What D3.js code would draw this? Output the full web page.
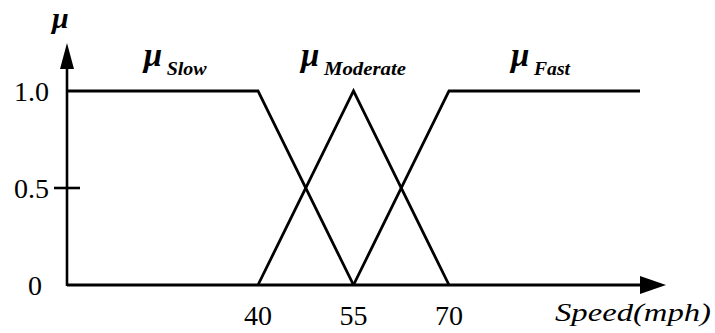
<!DOCTYPE html>
<html>
  <head>
    <title>Fuzzy speed sets</title>
    <script src="https://cdn.jsdelivr.net/npm/d3@7"></script>
    <style>
      body { margin: 0; background: white; }
      text { font-family: "Liberation Serif", "Times New Roman", serif; fill: black; }
    </style>
  </head>
  <body>
    <script>
      // membership functions (speed in mph -> mu)
      let slowX = [10, 40, 55], slowY = [1, 1, 0];
      let moderateX = [40, 55, 70], moderateY = [0, 1, 0];
      let fastX = [55, 70, 100], fastY = [0, 1, 1];

      let xTicks = [40, 55, 70];
      let yTicks = [0, 0.5, 1.0];
      let yTickLabels = ["0", "0.5", "1.0"];

      let setNames = ["Slow", "Moderate", "Fast"];
      let setLabelX = [22.2, 46.9, 79.9];   // speed where each label sits
      let subWidths = [40, 82, 36];

      let width = 715, height = 333;
      let svg = d3.select("body").append("svg")
                  .attr("width", width).attr("height", height);

      let x = d3.scaleLinear().domain([10, 100]).range([67, 640]);
      let y = d3.scaleLinear().domain([0, 1]).range([285, 91]);

      let line = d3.line().x(d => x(d[0])).y(d => y(d[1]));
      let series = [d3.zip(slowX, slowY), d3.zip(moderateX, moderateY), d3.zip(fastX, fastY)];

      svg.selectAll("path.mf").data(series).enter().append("path")
         .attr("class", "mf")
         .attr("d", line)
         .attr("fill", "none").attr("stroke", "black")
         .attr("stroke-width", 2.8).attr("stroke-linejoin", "miter");

      // axes with arrow heads
      let x0 = x(10), yBase = y(0);
      svg.append("line").attr("x1", x0).attr("y1", yBase).attr("x2", 645).attr("y2", yBase)
         .attr("stroke", "black").attr("stroke-width", 2.8);
      svg.append("path").attr("d", `M640,${yBase - 9}L666,${yBase}L640,${yBase + 9}Z`).attr("fill", "black");

      svg.append("line").attr("x1", x0).attr("y1", yBase + 1).attr("x2", x0).attr("y2", 66)
         .attr("stroke", "black").attr("stroke-width", 2.6);
      svg.append("path").attr("d", `M${x0 - 7},69L${x0},43L${x0 + 7},69Z`).attr("fill", "black");

      // y tick at 0.5
      svg.append("line").attr("x1", x0 - 13).attr("x2", x0 + 13)
         .attr("y1", y(0.5)).attr("y2", y(0.5))
         .attr("stroke", "black").attr("stroke-width", 2.6);

      svg.selectAll("text.ytick").data(yTicks).enter().append("text")
         .attr("class", "ytick")
         .attr("x", (d, i) => i == 0 ? 42 : 49).attr("y", d => y(d) + 10)
         .attr("text-anchor", "end")
         .style("font-size", "28px")
         .text((d, i) => yTickLabels[i]);

      svg.selectAll("text.xtick").data(xTicks).enter().append("text")
         .attr("class", "xtick")
         .attr("x", d => x(d)).attr("y", 325)
         .attr("text-anchor", "middle")
         .style("font-size", "28px")
         .text(d => d);

      svg.append("text").attr("x", 555).attr("y", 321)
         .style("font-size", "26px").style("font-style", "italic")
         .attr("textLength", 156).attr("lengthAdjust", "spacingAndGlyphs")
         .text("Speed(mph)");

      // mu on the y axis
      svg.append("text").attr("x", 52).attr("y", 28)
         .style("font-size", "30px").style("font-style", "italic").style("font-weight", "bold")
         .text("\u03bc");

      // set labels
      let labels = svg.selectAll("g.lab").data(setNames).enter().append("g").attr("class", "lab")
         .attr("transform", (d, i) => `translate(${x(setLabelX[i]) - 1},66)`);
      labels.append("text")
         .style("font-size", "33px").style("font-style", "italic").style("font-weight", "bold")
         .text("\u03bc");
      labels.append("text").attr("x", 23).attr("y", 9)
         .style("font-size", "19px").style("font-style", "italic").style("font-weight", "bold")
         .attr("textLength", (d, i) => subWidths[i]).attr("lengthAdjust", "spacingAndGlyphs")
         .text(d => d);
    </script>
  </body>
</html>
